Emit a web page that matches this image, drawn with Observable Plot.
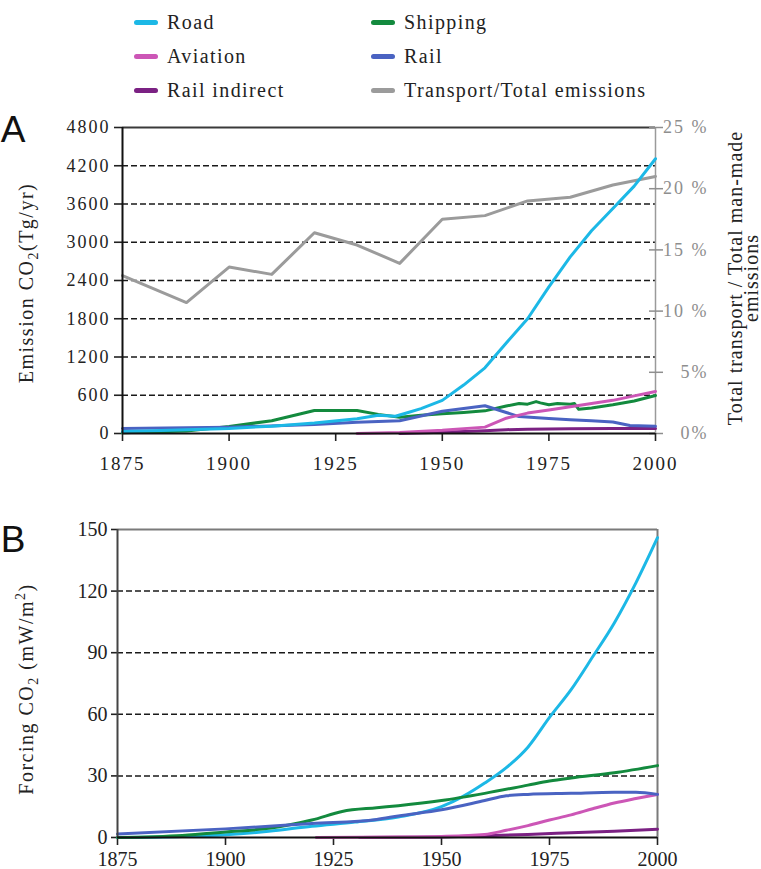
<!DOCTYPE html>
<html>
<head>
<meta charset="utf-8">
<script src="https://cdn.jsdelivr.net/npm/d3@7"></script>
<script src="https://cdn.jsdelivr.net/npm/@observablehq/plot@0.6"></script>
<style>
  body { margin: 0; background: #fff; }
  #root { position: relative; width: 761px; height: 869px; font-family: "Liberation Serif", "Times New Roman", serif; }
  .leg { position: absolute; display: flex; align-items: center; font-family: "Liberation Serif", "Times New Roman", serif; font-size: 20px; letter-spacing: 1.4px; color: #222; white-space: nowrap; line-height: 20px; }
  .sw { width: 24px; height: 5px; border-radius: 3px; margin-right: 9px; }
</style>
</head>
<body>
<div id="root"></div>
<script>
// ---- Panel A: CO2 emissions (Tg/yr) by transport sector ----
const roadEmission = [[1875,30],[1880,40],[1890,60],[1900,80],[1910,115],[1920,165],[1930,230],[1935,285],[1939,270],[1942,330],[1945,390],[1950,520],[1955,760],[1960,1030],[1965,1420],[1970,1800],[1975,2300],[1980,2770],[1985,3180],[1990,3530],[1995,3880],[2000,4310]];
const shippingEmission = [[1875,10],[1890,40],[1900,110],[1910,200],[1920,360],[1930,360],[1935,300],[1940,255],[1945,285],[1950,310],[1955,330],[1960,355],[1965,430],[1968,470],[1970,460],[1972,500],[1973,480],[1975,450],[1977,470],[1980,460],[1981,470],[1982,380],[1985,400],[1990,450],[1995,510],[2000,596]];
const aviationEmission = [[1930,0],[1940,15],[1950,50],[1960,100],[1965,240],[1970,320],[1975,370],[1980,420],[1985,470],[1990,520],[1995,590],[2000,660]];
const railEmission = [[1875,80],[1900,100],[1920,140],[1930,175],[1940,200],[1950,350],[1960,435],[1965,330],[1968,265],[1975,235],[1980,215],[1985,200],[1990,180],[1994,125],[2000,115]];
const railIndirectEmission = [[1940,0],[1950,20],[1960,45],[1965,60],[1970,65],[1980,75],[1990,80],[2000,80]];
// share of total transport in total man-made emissions (%)
const transportShare = [[1875,12.9],[1890,10.7],[1900,13.6],[1910,13.0],[1920,16.4],[1930,15.4],[1940,13.9],[1950,17.5],[1960,17.8],[1970,19.0],[1980,19.3],[1990,20.3],[2000,21.0]];

// ---- Panel B: CO2 radiative forcing (mW/m2) ----
const roadForcing = [[1875,0],[1890,0.5],[1900,1.3],[1910,3],[1920,5.5],[1930,7.5],[1940,10],[1950,15],[1955,20],[1960,26.5],[1965,34],[1970,44],[1975,58.5],[1980,72],[1985,88],[1990,104.5],[1995,124],[2000,146]];
const shippingForcing = [[1875,0],[1890,1],[1900,2.7],[1910,4.5],[1916,6.7],[1920,8.5],[1927,12.7],[1935,14.5],[1940,15.5],[1950,18],[1960,21.5],[1970,25.5],[1975,27.5],[1980,29],[1990,31.5],[2000,35]];
const aviationForcing = [[1921,0],[1940,0.2],[1950,0.5],[1960,1.5],[1965,3.5],[1970,5.8],[1975,8.5],[1980,11],[1985,14],[1990,16.8],[1995,19],[2000,21]];
const railForcing = [[1875,1.7],[1900,4.2],[1920,6.8],[1935,8.8],[1940,10.5],[1950,13.5],[1960,18],[1965,20.3],[1970,21],[1980,21.5],[1990,22],[1995,22],[2000,21]];
const railIndirectForcing = [[1931,0],[1950,0.3],[1960,0.8],[1970,1.5],[1980,2.3],[1990,3.1],[2000,4]];

// ---- axes ----
const yearTicks = [1875, 1900, 1925, 1950, 1975, 2000];
const emissionTicks = [0, 600, 1200, 1800, 2400, 3000, 3600, 4200, 4800];
const shareTicks = [0, 5, 10, 15, 20, 25];
const shareLabels = ["0%", "5%", "10 %", "15 %", "20 %", "25 %"];
const forcingTicks = [0, 30, 60, 90, 120, 150];

// ---- legend entries ----
const seriesNames = ["Road", "Shipping", "Aviation", "Rail", "Rail indirect", "Transport/Total emissions"];
const seriesColors = ["#1cb8e6", "#138a3e", "#cc56b6", "#4a63c2", "#7b2183", "#9b9b9b"];
const [cRoad, cShip, cAvi, cRail, cRailInd, cShare] = seriesColors;

const EMAX = 4800, SMAX = 25;   // right axis: 25 % sits on 4800 Tg/yr
const shareToEmission = p => p * EMAX / SMAX;

const root = document.getElementById("root");
const serif = "'Liberation Serif', 'Times New Roman', serif";

// legend (two columns, three rows)
seriesNames.forEach((name, i) => {
  const col = i % 2, row = Math.floor(i / 2);
  const d = document.createElement("div");
  d.className = "leg";
  d.style.left = (col ? 371 : 134) + "px";
  d.style.top = (12 + row * 34.2) + "px";
  d.innerHTML = `<span class="sw" style="background:${seriesColors[i]}"></span><span>${name}</span>`;
  root.appendChild(d);
});

const rows = arr => arr.map(([year, value]) => ({year, value}));

// ---------- Panel A ----------
const plotA = Plot.plot({
  width: 761, height: 385,
  marginLeft: 122, marginRight: 106, marginTop: 22, marginBottom: 57,
  style: {fontFamily: serif, fontSize: "18px", color: "#222", background: "transparent", overflow: "visible"},
  x: {domain: [1875, 2000]},
  y: {domain: [0, EMAX]},
  marks: [
    Plot.ruleY(emissionTicks.slice(1, -1), {stroke: "#1a1a1a", strokeWidth: 1.7, strokeDasharray: "6,3"}),
    Plot.ruleY([EMAX], {stroke: "#3a3a3a", strokeWidth: 2}),
    Plot.ruleX([2000], {stroke: "#9a9a9a", strokeWidth: 1.5}),
    Plot.axisY({anchor: "left", ticks: emissionTicks, tickSize: 8, tickPadding: 4, tickFormat: d => String(d), label: null, color: "#222", strokeWidth: 1.6}),
    Plot.axisY({anchor: "right", ticks: shareTicks.map(shareToEmission), tickSize: 7, tickPadding: 46, textAnchor: "end",
      tickFormat: v => shareLabels[shareTicks.indexOf(Math.round(v * SMAX / EMAX))], label: null, color: "#8e8e8e", strokeWidth: 1.5}),
    Plot.axisY({anchor: "right", ticks: shareTicks.map(shareToEmission), tickSize: -7, tickFormat: () => "", label: null, color: "#8e8e8e", strokeWidth: 1.5}),
    Plot.axisX({ticks: yearTicks, tickSize: 8, tickPadding: 15, tickFormat: d => String(d), label: null, color: "#222", fontSize: 19, strokeWidth: 1.6}),
    Plot.line(rows(transportShare), {x: "year", y: d => shareToEmission(d.value), stroke: cShare, strokeWidth: 3}),
    Plot.line(rows(railIndirectEmission), {x: "year", y: "value", stroke: cRailInd, strokeWidth: 3}),
    Plot.line(rows(shippingEmission), {x: "year", y: "value", stroke: cShip, strokeWidth: 3}),
    Plot.line(rows(railEmission), {x: "year", y: "value", stroke: cRail, strokeWidth: 3}),
    Plot.line(rows(aviationEmission), {x: "year", y: "value", stroke: cAvi, strokeWidth: 3}),
    Plot.line(rows(roadEmission), {x: "year", y: "value", stroke: cRoad, strokeWidth: 3}),
    Plot.ruleX([1875], {stroke: "#111", strokeWidth: 2}),
    Plot.ruleY([0], {stroke: "#111", strokeWidth: 2})
  ]
});

// ---------- Panel B ----------
const plotB = Plot.plot({
  width: 761, height: 364,
  marginLeft: 117, marginRight: 104, marginTop: 24, marginBottom: 32,
  style: {fontFamily: serif, fontSize: "20px", color: "#222", background: "transparent", overflow: "visible"},
  x: {domain: [1875, 2000]},
  y: {domain: [0, 150]},
  marks: [
    Plot.ruleY(forcingTicks.slice(1, -1), {stroke: "#1a1a1a", strokeWidth: 1.5, strokeDasharray: "6,3"}),
    Plot.ruleY([150], {stroke: "#7a7a7a", strokeWidth: 2}),
    Plot.ruleX([2000], {stroke: "#7a7a7a", strokeWidth: 2}),
    Plot.axisY({ticks: forcingTicks, tickSize: 6, tickPadding: 4, tickFormat: d => String(d), label: null, color: "#222", strokeWidth: 1.6}),
    Plot.axisX({ticks: yearTicks, tickSize: 8, tickPadding: 6, tickFormat: d => String(d), label: null, color: "#222", strokeWidth: 1.6}),
    Plot.line(rows(railIndirectForcing), {x: "year", y: "value", stroke: cRailInd, strokeWidth: 3, curve: "monotone-x"}),
    Plot.line(rows(aviationForcing), {x: "year", y: "value", stroke: cAvi, strokeWidth: 3, curve: "monotone-x"}),
    Plot.line(rows(roadForcing), {x: "year", y: "value", stroke: cRoad, strokeWidth: 3, curve: "monotone-x"}),
    Plot.line(rows(shippingForcing), {x: "year", y: "value", stroke: cShip, strokeWidth: 3, curve: "monotone-x"}),
    Plot.line(rows(railForcing), {x: "year", y: "value", stroke: cRail, strokeWidth: 3, curve: "monotone-x"}),
    Plot.ruleX([1875], {stroke: "#444", strokeWidth: 2}),
    Plot.ruleY([0], {stroke: "#111", strokeWidth: 2})
  ]
});

function place(svg, top) {
  svg.style.position = "absolute";
  svg.style.left = "0px";
  svg.style.top = top + "px";
  root.appendChild(svg);
}
place(plotA, 105);
place(plotB, 505);

// serif type throughout, with the wide tick spacing of panel A
d3.selectAll("svg text").style("font-family", serif);
d3.select(plotA).selectAll('g[aria-label="y-axis tick label"] text').style("letter-spacing", "2px");
d3.select(plotA).selectAll('g[aria-label="x-axis tick label"] text').style("letter-spacing", "2px");

// rotated axis titles with sub/superscripts
function vtitle(svg, x, y, lines, spacing, lineGap) {
  const t = d3.select(svg).append("text")
    .attr("transform", `translate(${x},${y}) rotate(-90)`)
    .attr("text-anchor", "middle")
    .attr("fill", "#222")
    .style("font-family", serif).style("font-size", "20px").style("letter-spacing", spacing);
  lines.forEach((parts, li) => {
    parts.forEach((p, pi) => {
      const s = t.append("tspan").text(p.text);
      if (pi === 0 && li > 0) s.attr("x", 0).attr("dy", lineGap);
      if (p.sub) s.attr("dy", 5).style("font-size", "14px");
      if (p.sup) s.attr("dy", -8).style("font-size", "14px");
      if (p.back) s.attr("dy", p.back);
    });
  });
}
vtitle(plotA, 33, 178, [[{text: "Emission CO"}, {text: "2", sub: true}, {text: "(Tg/yr)", back: -5}]], "1.5px");
vtitle(plotA, 742, 173, [[{text: "Total transport / Total man-made"}], [{text: "emissions"}]], "1px", 16);
vtitle(plotB, 33, 184, [[{text: "Forcing CO"}, {text: "2", sub: true}, {text: " (mW/m", back: -5}, {text: "2", sup: true}, {text: ")", back: 8}]], "1.5px");

// panel letters
[[plotA, "A", 37], [plotB, "B", 47]].forEach(([svg, letter, y]) => {
  d3.select(svg).append("text").attr("x", 13).attr("y", y)
    .style("font-family", "'Liberation Sans', Arial, sans-serif").style("font-size", "37px").attr("fill", "#111")
    .text(letter);
});
</script>
</body>
</html>
